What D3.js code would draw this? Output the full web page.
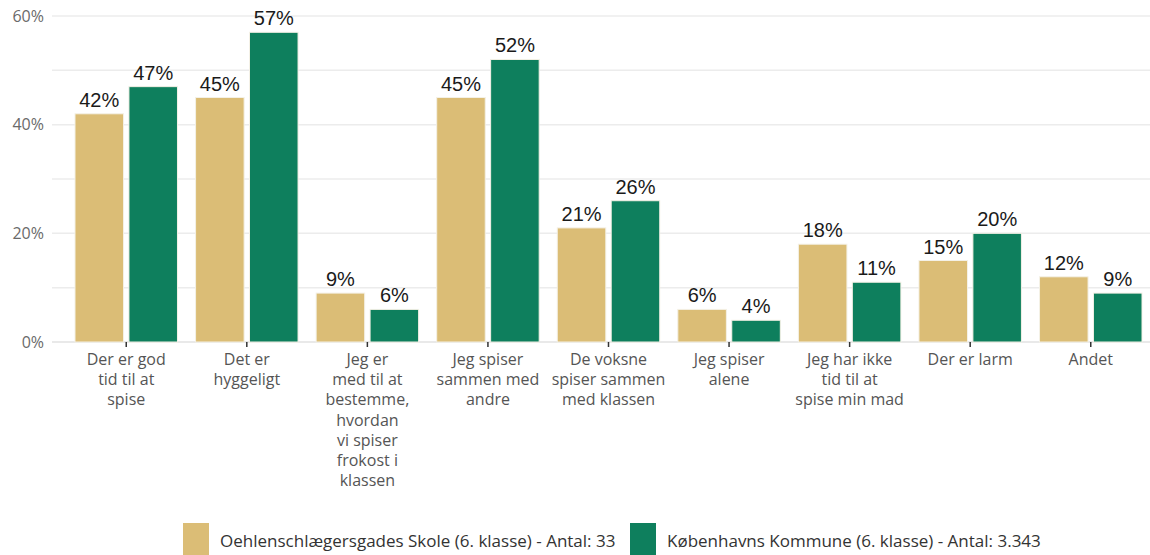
<!DOCTYPE html>
<html>
<head>
<meta charset="utf-8">
<script src="https://cdn.jsdelivr.net/npm/d3@7"></script>
<style>
  html, body { margin: 0; padding: 0; background: #fff; }
  svg { display: block; }
</style>
</head>
<body>
<svg id="chart" width="1150" height="555"></svg>
<script>
// Categories (answers), one label line per array entry
const categories = [
  ["Der er god", "tid til at", "spise"],
  ["Det er", "hyggeligt"],
  ["Jeg er", "med til at", "bestemme,", "hvordan", "vi spiser", "frokost i", "klassen"],
  ["Jeg spiser", "sammen med", "andre"],
  ["De voksne", "spiser sammen", "med klassen"],
  ["Jeg spiser", "alene"],
  ["Jeg har ikke", "tid til at", "spise min mad"],
  ["Der er larm"],
  ["Andet"]
];

// Series values (percent)
const schoolValues  = [42, 45, 9, 45, 21, 6, 18, 15, 12];
const kommuneValues = [47, 57, 6, 52, 26, 4, 11, 20, 9];

const seriesNames = [
  "Oehlenschlægersgades Skole (6. klasse) - Antal: 33",
  "Københavns Kommune (6. klasse) - Antal: 3.343"
];
const seriesColors = ["#dbbd76", "#0e7f5d"];

const yTicks = [0, 20, 40, 60];
const yGrid = [0, 10, 20, 30, 40, 50, 60];

const svg = d3.select("#chart");
const margin = { left: 52, right: 0, top: 16, bottom: 213 };
const W = 1150, H = 555;
const yBottom = H - margin.bottom; // 342

const idx = d3.range(categories.length);

const x0 = d3.scaleBand()
  .domain(idx)
  .range([75, 1142])
  .paddingInner(0.15)
  .paddingOuter(0.0);

const x1 = d3.scaleBand()
  .domain([0, 1])
  .range([0, x0.bandwidth()])
  .paddingInner(0.1);

const y = d3.scaleLinear().domain([0, 60]).range([yBottom, margin.top]);

// Grid lines
svg.append("g")
  .selectAll("line")
  .data(yGrid)
  .join("line")
  .attr("x1", margin.left)
  .attr("x2", W)
  .attr("y1", d => y(d))
  .attr("y2", d => y(d))
  .attr("stroke", d => d === 0 ? "#e2e2e2" : "#ececec")
  .attr("stroke-width", 1.5);

// Y tick labels
svg.append("g")
  .selectAll("text")
  .data(yTicks)
  .join("text")
  .attr("x", 44)
  .attr("y", d => y(d))
  .attr("dy", "0.35em")
  .attr("text-anchor", "end")
  .attr("fill", "#6a6a6a")
  .style("font-family", "'Open Sans', sans-serif")
  .style("font-size", "16px")
  .text(d => d + "%");

// Bars
const series = [schoolValues, kommuneValues];
const groups = svg.append("g")
  .selectAll("g")
  .data(idx)
  .join("g")
  .attr("transform", i => `translate(${x0(i)},0)`);

groups.selectAll("rect")
  .data(i => series.map((s, k) => ({ k, v: s[i] })))
  .join("rect")
  .attr("x", d => x1(d.k))
  .attr("width", x1.bandwidth())
  .attr("y", d => y(d.v))
  .attr("height", d => y(0) - y(d.v))
  .attr("fill", d => seriesColors[d.k])
  .attr("stroke", "#f4f1e6")
  .attr("stroke-width", 1);

groups.selectAll("text.val")
  .data(i => series.map((s, k) => ({ k, v: s[i] })))
  .join("text")
  .attr("class", "val")
  .attr("x", d => x1(d.k) + x1.bandwidth() / 2)
  .attr("y", d => y(d.v) - 7)
  .attr("text-anchor", "middle")
  .attr("fill", "#1a1a1a")
  .style("font-family", "'Liberation Sans', Arial, sans-serif")
  .style("font-size", "20px")
  .text(d => d.v + "%");

// X axis ticks
svg.append("g")
  .selectAll("line")
  .data(idx)
  .join("line")
  .attr("x1", i => x0(i) + x0.bandwidth() / 2)
  .attr("x2", i => x0(i) + x0.bandwidth() / 2)
  .attr("y1", yBottom)
  .attr("y2", yBottom + 5)
  .attr("stroke", "#333")
  .attr("stroke-width", 1.5);

// X category labels (multi-line)
const xl = svg.append("g")
  .selectAll("text")
  .data(idx)
  .join("text")
  .attr("text-anchor", "middle")
  .attr("fill", "#555")
  .style("font-family", "'Open Sans', sans-serif")
  .style("font-size", "16px")
  .attr("transform", i => `translate(${x0(i) + x0.bandwidth() / 2},${yBottom + 23})`);

xl.selectAll("tspan")
  .data(i => categories[i])
  .join("tspan")
  .attr("x", 0)
  .attr("y", (d, j) => j * 20.2)
  .text(d => d);

// Legend
const legend = svg.append("g");
const legendItems = [
  { x: 183, name: seriesNames[0], color: seriesColors[0] },
  { x: 630, name: seriesNames[1], color: seriesColors[1] }
];
legendItems.forEach(it => {
  legend.append("rect")
    .attr("x", it.x)
    .attr("y", 523)
    .attr("width", 26)
    .attr("height", 34)
    .attr("fill", it.color);
  legend.append("text")
    .attr("x", it.x + 37)
    .attr("y", 541)
    .attr("dy", "0.35em")
    .attr("fill", "#333")
    .style("font-family", "'Open Sans', sans-serif")
    .style("font-size", "17px")
    .text(it.name);
});
</script>
</body>
</html>
